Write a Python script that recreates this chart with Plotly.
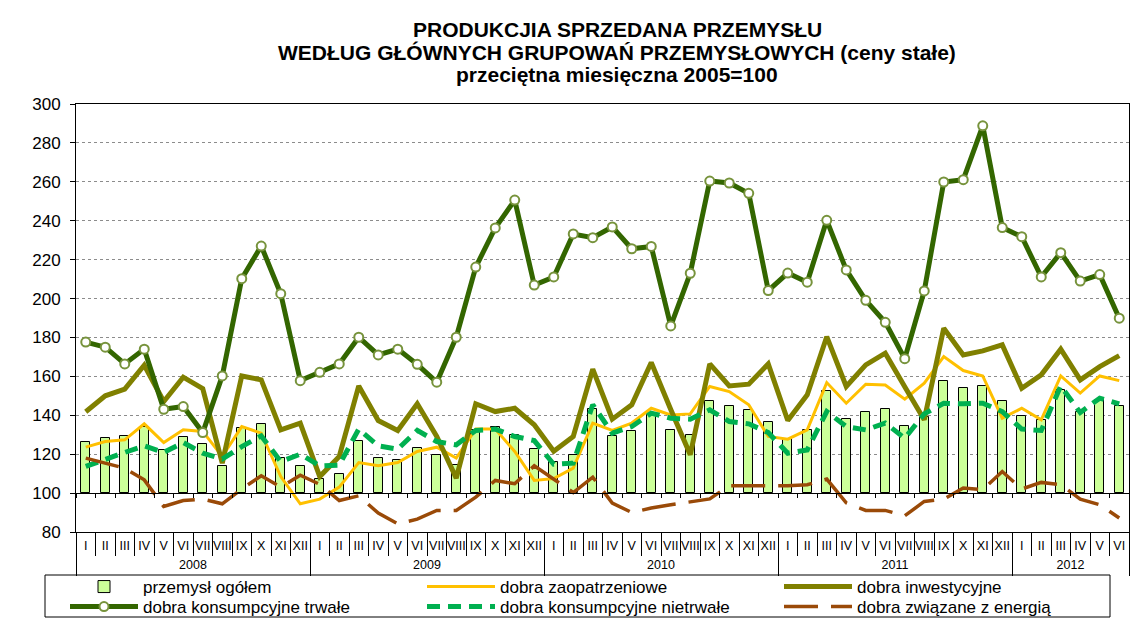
import numpy as np
import plotly.graph_objects as go

# ---------------- data ----------------
month_names = ["I", "II", "III", "IV", "V", "VI", "VII", "VIII", "IX", "X", "XI", "XII"]
years = ["2008", "2009", "2010", "2011", "2012"]
months_per_year = [12, 12, 12, 12, 6]
months = [m for cnt in months_per_year for m in month_names[:cnt]]

przemysl_ogolem = [
    126.5, 128.2, 129.1, 134.2, 122.2, 128.8, 125.3, 114.0, 133.5, 135.6, 118.0, 114.0,
    107.2, 109.9, 126.9, 118.0, 117.1, 123.1, 119.7, 114.5, 132.5, 133.9, 129.8, 122.6,
    116.2, 119.7, 143.1, 129.4, 131.7, 140.2, 132.5, 129.9, 147.1, 144.8, 142.8, 136.8,
    127.7, 132.5, 152.7, 138.0, 141.8, 143.1, 134.6, 139.3, 157.8, 153.9, 154.8, 147.1,
    139.7, 137.7, 153.1, 141.9, 147.9, 144.8]

dobra_zaopatrzeniowe = [
    123.6, 126.5, 127.4, 135.6, 126.0, 132.5, 131.7, 118.8, 134.2, 130.8, 108.5, 94.5,
    96.9, 103.1, 115.7, 114.0, 115.7, 121.4, 123.6, 118.0, 132.9, 132.9, 121.4, 106.5,
    107.5, 112.8, 136.0, 132.2, 136.0, 143.6, 140.2, 140.7, 154.8, 152.2, 145.4, 129.1,
    127.7, 132.5, 156.8, 146.2, 156.0, 155.6, 148.3, 156.5, 170.2, 163.0, 160.2, 138.5,
    143.6, 137.7, 160.2, 151.4, 160.2, 157.8]

dobra_inwestycyjne = [
    141.8, 150.0, 153.4, 165.7, 147.1, 159.6, 153.7, 115.4, 160.2, 158.2, 132.5, 136.0,
    108.5, 118.8, 155.1, 137.3, 132.2, 145.9, 129.1, 107.7, 145.9, 141.9, 143.6, 135.1,
    121.5, 129.1, 163.7, 138.0, 145.4, 167.1, 143.0, 119.7, 166.4, 155.1, 156.0, 166.4,
    137.3, 150.5, 180.4, 154.8, 165.9, 171.9, 154.6, 137.7, 184.7, 171.0, 173.1, 176.2,
    153.9, 160.8, 174.0, 158.2, 165.0, 170.7]

dobra_trwale = [
    177.6, 175.0, 166.4, 174.0, 143.1, 144.5, 131.1, 160.2, 210.2, 227.0, 202.5, 157.8,
    162.1, 166.4, 180.1, 171.0, 174.0, 166.2, 157.0, 180.1, 216.2, 236.3, 250.6, 206.9,
    211.1, 233.2, 231.3, 236.8, 225.6, 226.8, 185.9, 213.0, 260.4, 259.4, 254.1, 204.1,
    213.1, 208.4, 240.2, 214.7, 199.1, 187.8, 169.1, 203.9, 259.9, 261.1, 288.8, 236.5,
    231.8, 211.1, 223.6, 209.0, 212.3, 189.9]

dobra_nietrwale = [
    113.7, 117.5, 120.9, 124.3, 120.9, 126.0, 120.5, 117.5, 123.9, 129.4, 116.2, 120.0,
    114.0, 114.4, 132.9, 124.3, 122.6, 132.2, 126.5, 124.8, 132.2, 132.9, 129.1, 127.0,
    114.8, 115.4, 145.4, 130.8, 134.2, 141.1, 138.5, 138.0, 142.8, 136.8, 135.6, 131.1,
    120.5, 122.2, 141.9, 134.2, 132.5, 136.0, 128.2, 140.7, 146.2, 145.9, 146.2, 141.9,
    132.9, 132.2, 155.1, 141.4, 148.8, 145.9]

dobra_energia = [
    118.0, 115.4, 112.8, 106.8, 93.1, 96.2, 96.9, 94.5, 102.1, 108.9, 103.1, 109.2,
    104.5, 96.2, 98.6, 89.7, 84.2, 86.6, 91.1, 91.1, 97.9, 106.5, 104.8, 114.0,
    107.2, 100.3, 108.2, 94.9, 90.0, 92.3, 94.0, 95.7, 97.0, 103.8, 103.8, 103.4,
    103.8, 104.3, 107.2, 95.0, 91.1, 91.1, 88.3, 95.7, 96.9, 102.6, 101.7, 111.1,
    102.1, 105.5, 104.3, 96.9, 94.0, 87.2]

title_lines = [
    "PRODUKCJIA SPRZEDANA PRZEMYSŁU",
    "WEDŁUG GŁÓWNYCH GRUPOWAŃ PRZEMYSŁOWYCH (ceny stałe)",
    "przeciętna miesięczna 2005=100",
]

Y_MIN, Y_MAX, BAR_BASE = 80, 300, 100

# ---------------- figure ----------------
FONT = "Liberation Sans, Arial, sans-serif"
W, H = 1131, 618
M_L, M_R, M_T, M_B = 76, 2, 104, 86
plot_h = H - M_T - M_B
plot_w = W - M_L - M_R
bottom_px = H - M_B


def px_x(px):
    return (px - M_L) / plot_w


def px_y(px):
    return (bottom_px - px) / plot_h


n = len(months)
idx = np.arange(n)
x_range = [-0.5, n - 0.5]
bounds = np.arange(n + 1) - 0.5
year_edges = np.concatenate([[0], np.cumsum(months_per_year)]) - 0.5
year_centers = (year_edges[:-1] + year_edges[1:]) / 2

fig = go.Figure()
fig.add_trace(go.Bar(
    x=idx, y=np.array(przemysl_ogolem) - BAR_BASE, base=BAR_BASE, width=0.45,
    marker=dict(color="#CCFF99", line=dict(color="black", width=1)),
    name="przemysł ogółem", legend="legend"))
fig.add_trace(go.Scatter(
    x=idx, y=dobra_zaopatrzeniowe, mode="lines",
    line=dict(color="#FFC000", width=3), name="dobra zaopatrzeniowe",
    legend="legend"))
fig.add_trace(go.Scatter(
    x=idx, y=dobra_inwestycyjne, mode="lines",
    line=dict(color="#808000", width=5), name="dobra inwestycyjne",
    legend="legend"))
fig.add_trace(go.Scatter(
    x=idx, y=dobra_trwale, mode="lines+markers",
    line=dict(color="#336600", width=5),
    marker=dict(symbol="circle", size=9, color="white",
                line=dict(color="#77933C", width=2)),
    name="dobra konsumpcyjne trwałe", legend="legend2"))
fig.add_trace(go.Scatter(
    x=idx, y=dobra_nietrwale, mode="lines",
    line=dict(color="#00B050", width=5, dash="13px,8px"),
    name="dobra konsumpcyjne nietrwałe", legend="legend2"))
fig.add_trace(go.Scatter(
    x=idx, y=dobra_energia, mode="lines",
    line=dict(color="#9A4A08", width=3.5, dash="34px,13px"),
    name="dobra związane z energią", legend="legend2"))

hidden = dict(showgrid=False, zeroline=False)
legend_common = dict(orientation="h", xanchor="left", yanchor="middle",
                     x=px_x(65), borderwidth=0, bgcolor="rgba(0,0,0,0)",
                     font=dict(size=17, family=FONT, color="black"),
                     itemwidth=68, entrywidth=274, traceorder="normal")

fig.update_layout(
    width=W, height=H,
    margin=dict(l=M_L, r=M_R, t=M_T, b=M_B, autoexpand=False),
    paper_bgcolor="white", plot_bgcolor="white",
    font=dict(family=FONT, color="black"),
    bargap=0,
    showlegend=True,
    xaxis=dict(range=x_range, tickmode="array", tickvals=idx, ticktext=months,
               ticks="", showline=True, linecolor="black", linewidth=1, mirror=True,
               tickfont=dict(size=12.5), tickangle=0, ticklabelstandoff=2, **hidden),
    xaxis2=dict(overlaying="x", anchor="free", position=0, range=x_range,
                tickmode="array", tickvals=bounds, ticks="outside", ticklen=23,
                tickcolor="black", tickwidth=1, showticklabels=False,
                showline=False, **hidden),
    xaxis3=dict(overlaying="x", anchor="free", position=0, range=x_range,
                tickmode="array", tickvals=year_edges, ticks="outside", ticklen=43,
                tickcolor="black", tickwidth=1, showticklabels=False,
                showline=False, **hidden),
    xaxis4=dict(overlaying="x", anchor="free", position=0, range=x_range,
                tickmode="array", tickvals=year_centers, ticktext=years, ticks="",
                ticklabelstandoff=23, tickfont=dict(size=12.5), tickangle=0,
                showline=False, **hidden),
    xaxis5=dict(overlaying="x", anchor="free",
                position=(BAR_BASE - Y_MIN) / (Y_MAX - Y_MIN), range=x_range,
                tickmode="array", tickvals=bounds, ticks="outside", ticklen=4,
                tickcolor="black", tickwidth=1, showticklabels=False,
                showline=True, linecolor="black", linewidth=1, **hidden),
    yaxis=dict(range=[Y_MIN, Y_MAX], tick0=Y_MIN, dtick=20, ticks="outside",
               ticklen=5, tickcolor="black", showline=True, linecolor="black",
               linewidth=1, mirror=True, showgrid=True, gridcolor="#8c8c8c",
               griddash="dot", gridwidth=1, zeroline=False,
               tickfont=dict(size=17), ticklabelstandoff=6),
    legend=dict(y=px_y(587), **legend_common),
    legend2=dict(y=px_y(607), **legend_common),
)

# legend frame
fig.add_shape(type="rect", xref="paper", yref="paper",
              x0=px_x(45), x1=px_x(1110), y0=px_y(617), y1=px_y(575),
              line=dict(color="black", width=1), fillcolor="rgba(0,0,0,0)",
              layer="above")

# dummy traces to register overlay axes
for ax in ["x2", "x3", "x4", "x5"]:
    fig.add_trace(go.Scatter(x=[None], y=[None], xaxis=ax, showlegend=False,
                             hoverinfo="skip"))

title_y_px = [30, 52, 74]
for text, ypx in zip(title_lines, title_y_px):
    fig.add_annotation(text=text, xref="paper", yref="paper",
                       x=px_x(617), y=px_y(ypx),
                       xanchor="center", yanchor="middle", showarrow=False,
                       font=dict(size=21, family=FONT, color="black", weight="bold"))

fig.write_html("out.html",
               config={"displayModeBar": False},
               post_script="document.body.style.margin='0';"
                           "document.body.style.padding='0';")
